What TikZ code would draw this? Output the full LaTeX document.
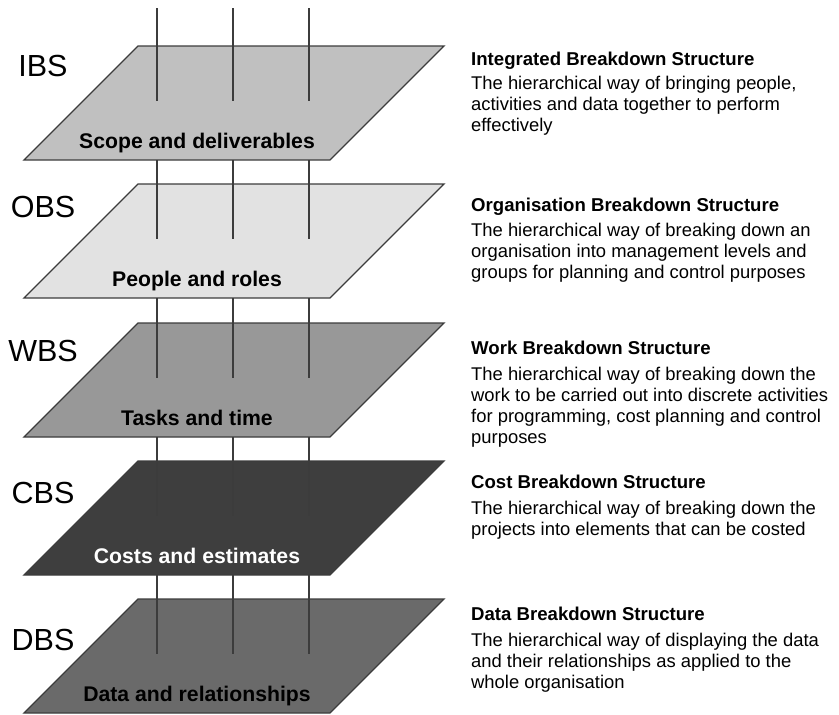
\documentclass[tikz,border=0pt]{standalone}
\usepackage{fontspec}
\setmainfont{Liberation Sans}
\usetikzlibrary{math,positioning}
\definecolor{ibsgray}{RGB}{192,192,192}
\definecolor{obsgray}{RGB}{226,226,226}
\definecolor{wbsgray}{RGB}{152,152,152}
\definecolor{cbsgray}{RGB}{62,62,62}
\definecolor{dbsgray}{RGB}{106,106,106}
\definecolor{edgegray}{RGB}{60,60,60}

\begin{document}
\begin{tikzpicture}[x=1pt,y=-1pt,
  plane/.style={draw=edgegray,line width=1.4pt,line join=miter},
  stem/.style={draw=edgegray,line width=1.1pt},
  abbr/.style={anchor=base,inner sep=0pt,font=\fontsize{30.5}{32}\selectfont},
  planetext/.style={anchor=base,inner sep=0pt,font=\fontsize{21.2}{24}\selectfont\bfseries},
  head/.style={anchor=base west,inner sep=0pt,font=\fontsize{18.6}{21}\selectfont\bfseries},
  body/.style={inner sep=0pt,align=left,font=\fontsize{18.4}{21}\selectfont}]
\tikzmath{
\xl=24;%left corner of the planes
\w=306;%plane width
\d=114;%plane depth (shift and height)
\cut=55;%how far the stems run into a plane
}
\useasboundingbox (0,0) rectangle (839,715);

%planes with their names
\foreach \t/\col/\name/\ly/\txt/\tc in {
  46/ibsgray/IBS/76/Scope and deliverables/black,
  184/obsgray/OBS/217/People and roles/black,
  323/wbsgray/WBS/361/Tasks and time/black,
  461/cbsgray/CBS/503/Costs and estimates/white,
  599/dbsgray/DBS/650/Data and relationships/black}{
 \coordinate (\name-P1) at (\xl,\t+\d);
 \coordinate (\name-P2) at (\xl+\w,\t+\d);
 \coordinate (\name-P3) at (\xl+\w+\d,\t);
 \coordinate (\name-P4) at (\xl+\d,\t);
 \fill[plane,fill=\col] (\name-P1) -- (\name-P2) -- (\name-P3) -- (\name-P4) --cycle;
 \node[planetext,text=\tc] (\name-text) at (\xl+\w/2+20,\t+\d-12) {\txt};
 \node[abbr] (\name-abbr) at (43,\ly) {\name};
}

%stems through the planes
\foreach \t [remember=\t as \tp (initially -106)] in {46,184,323,461,599}{
 \foreach \x in {157,233,309}{
  \coordinate (s-top) at (\x,\tp+\d);
  \coordinate (s-end) at (\x,\t+\cut);
  \draw[stem] (s-top) -- (s-end);
 }
}

%descriptions (body base = last line, so the gap counts all lines)
\node[head] (ibs-head) at (471,65) {Integrated Breakdown Structure};
\node[body,below=66.5pt of ibs-head.base west,anchor=base west] (ibs-body) {The hierarchical way of bringing people,\\activities and data together to perform\\effectively};

\node[head] (obs-head) at (471,211) {Organisation Breakdown Structure};
\node[body,below=67pt of obs-head.base west,anchor=base west] (obs-body) {The hierarchical way of breaking down an\\organisation into management levels and\\groups for planning and control purposes};

\node[head] (wbs-head) at (471,354) {Work Breakdown Structure};
\node[body,below=89pt of wbs-head.base west,anchor=base west] (wbs-body) {The hierarchical way of breaking down the\\work to be carried out into discrete activities\\for programming, cost planning and control\\purposes};

\node[head] (cbs-head) at (471,488) {Cost Breakdown Structure};
\node[body,below=47pt of cbs-head.base west,anchor=base west] (cbs-body) {The hierarchical way of breaking down the\\projects into elements that can be costed};

\node[head] (dbs-head) at (471,620) {Data Breakdown Structure};
\node[body,below=68pt of dbs-head.base west,anchor=base west] (dbs-body) {The hierarchical way of displaying the data\\and their relationships as applied to the\\whole organisation};

\end{tikzpicture}
\end{document}
